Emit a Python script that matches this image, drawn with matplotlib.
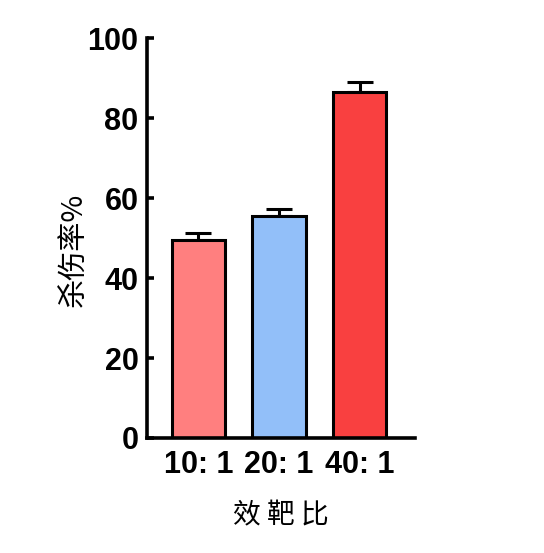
import numpy as np
import matplotlib
matplotlib.use("Agg")
from matplotlib import pyplot as plt

# data
ratios = ["10: 1", "20: 1", "40: 1"]
kill_rate = [49.6, 55.4, 86.6]
kill_err = [1.6, 1.8, 2.5]
bar_colors = ["#FF7F7F", "#92BFF9", "#F94040"]

yticks = [0, 20, 40, 60, 80, 100]

cjk = ["Noto Sans CJK SC", "DejaVu Sans"]

fig = plt.figure(figsize=(5.44, 5.53), dpi=100)
ax = fig.add_axes([0.270, 0.208, 0.493, 0.723])

x = np.arange(len(ratios))
ax.bar(x, kill_rate, width=0.66, color=bar_colors, edgecolor="black",
       linewidth=2.2, zorder=2)
ax.errorbar(x, kill_rate, yerr=[np.zeros(len(kill_err)), kill_err],
            fmt="none", ecolor="black", elinewidth=2.2, capsize=9.5,
            capthick=2.2, zorder=1)

ax.set_xlim(-0.64, 2.69)
ax.set_ylim(0, 100)
ax.set_yticks(yticks)
ax.set_xticks(x)
ax.set_xticklabels(ratios)

for side in ["top", "right"]:
    ax.spines[side].set_visible(False)
for side in ["left", "bottom"]:
    ax.spines[side].set_linewidth(2.6)

ax.tick_params(axis="y", direction="in", length=5, width=2.6, pad=6)
ax.tick_params(axis="x", direction="in", length=4, width=2.2, pad=9)

for lbl in ax.get_yticklabels() + ax.get_xticklabels():
    lbl.set_family("Liberation Sans")
    lbl.set_fontweight("bold")
    lbl.set_fontsize(22)

ax.set_ylabel("杀伤率%", family=cjk, fontsize=21, labelpad=3)
ax.yaxis.set_label_coords(-0.215, 0.47)
ax.set_xlabel("效 靶 比", family=cjk, fontsize=20, labelpad=14)

fig.savefig("out.png", dpi=100)
